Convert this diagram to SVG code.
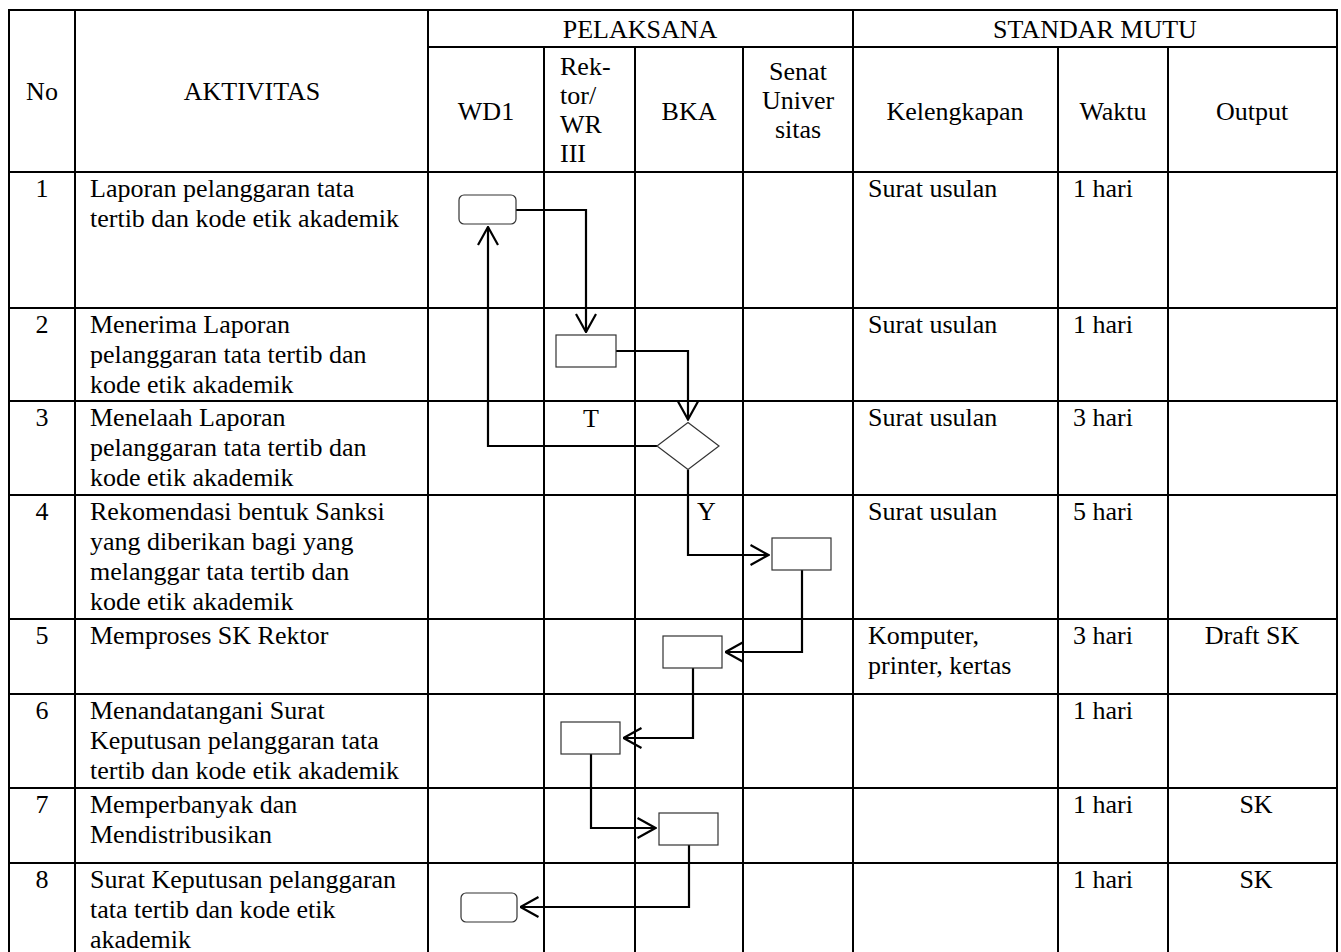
<svg xmlns="http://www.w3.org/2000/svg" width="1341" height="952" viewBox="0 0 1341 952">
<defs>
<style>
text{font-family:"Liberation Serif","Times New Roman",serif;font-size:26px;fill:#000}
.c{text-anchor:middle}
.grid line{stroke:#000;stroke-width:2}
.box{fill:#fff;stroke:#333;stroke-width:1.2}
.conn{fill:none;stroke:#000;stroke-width:2.2;marker-end:url(#arr)}
</style>
<marker id="arr" viewBox="0 0 20 22" refX="19" refY="11" markerWidth="20" markerHeight="22" markerUnits="userSpaceOnUse" orient="auto">
<path d="M1,1 L19,11 L1,21" fill="none" stroke="#000" stroke-width="2.2"/>
</marker>
</defs>
<rect width="1341" height="952" fill="#fff"/>
<g id="table" class="grid">
<line x1="8" y1="10" x2="1338" y2="10"/>
<line x1="428" y1="47" x2="1338" y2="47"/>
<line x1="8" y1="172" x2="1338" y2="172"/>
<line x1="8" y1="308" x2="1338" y2="308"/>
<line x1="8" y1="401" x2="1338" y2="401"/>
<line x1="8" y1="495" x2="1338" y2="495"/>
<line x1="8" y1="619" x2="1338" y2="619"/>
<line x1="8" y1="694" x2="1338" y2="694"/>
<line x1="8" y1="788" x2="1338" y2="788"/>
<line x1="8" y1="863" x2="1338" y2="863"/>
<line x1="9" y1="9" x2="9" y2="952"/>
<line x1="75" y1="10" x2="75" y2="952"/>
<line x1="428" y1="10" x2="428" y2="952"/>
<line x1="544" y1="47" x2="544" y2="952"/>
<line x1="635" y1="47" x2="635" y2="952"/>
<line x1="743" y1="47" x2="743" y2="952"/>
<line x1="853" y1="10" x2="853" y2="952"/>
<line x1="1058" y1="47" x2="1058" y2="952"/>
<line x1="1168" y1="47" x2="1168" y2="952"/>
<line x1="1337" y1="9" x2="1337" y2="952"/>
</g>
<g id="header">
<text class="c" x="640" y="38">PELAKSANA</text>
<text class="c" x="1095" y="38">STANDAR MUTU</text>
<text class="c" x="42" y="100">No</text>
<text class="c" x="252" y="100">AKTIVITAS</text>
<text class="c" x="486" y="120">WD1</text>
<text x="560" y="75">Rek-</text>
<text x="560" y="104">tor/</text>
<text x="560" y="133">WR</text>
<text x="560" y="162">III</text>
<text class="c" x="689" y="120">BKA</text>
<text class="c" x="798" y="80">Senat</text>
<text class="c" x="798" y="109">Univer</text>
<text class="c" x="798" y="138">sitas</text>
<text class="c" x="955" y="120">Kelengkapan</text>
<text class="c" x="1113" y="120">Waktu</text>
<text class="c" x="1252" y="120">Output</text>
</g>
<g id="rows">
<text class="c" x="42" y="197">1</text>
<text x="90" y="197">Laporan pelanggaran tata</text>
<text x="90" y="227">tertib dan kode etik akademik</text>
<text x="868" y="197">Surat usulan</text>
<text x="1073" y="197">1 hari</text>

<text class="c" x="42" y="333">2</text>
<text x="90" y="333">Menerima Laporan</text>
<text x="90" y="363">pelanggaran tata tertib dan</text>
<text x="90" y="393">kode etik akademik</text>
<text x="868" y="333">Surat usulan</text>
<text x="1073" y="333">1 hari</text>

<text class="c" x="42" y="426">3</text>
<text x="90" y="426">Menelaah Laporan</text>
<text x="90" y="456">pelanggaran tata tertib dan</text>
<text x="90" y="486">kode etik akademik</text>
<text x="868" y="426">Surat usulan</text>
<text x="1073" y="426">3 hari</text>

<text class="c" x="42" y="520">4</text>
<text x="90" y="520">Rekomendasi bentuk Sanksi</text>
<text x="90" y="550">yang diberikan bagi yang</text>
<text x="90" y="580">melanggar tata tertib dan</text>
<text x="90" y="610">kode etik akademik</text>
<text x="868" y="520">Surat usulan</text>
<text x="1073" y="520">5 hari</text>

<text class="c" x="42" y="644">5</text>
<text x="90" y="644">Memproses SK Rektor</text>
<text x="868" y="644">Komputer,</text>
<text x="868" y="674">printer, kertas</text>
<text x="1073" y="644">3 hari</text>
<text class="c" x="1252" y="644">Draft SK</text>

<text class="c" x="42" y="719">6</text>
<text x="90" y="719">Menandatangani Surat</text>
<text x="90" y="749">Keputusan pelanggaran tata</text>
<text x="90" y="779">tertib dan kode etik akademik</text>
<text x="1073" y="719">1 hari</text>

<text class="c" x="42" y="813">7</text>
<text x="90" y="813">Memperbanyak dan</text>
<text x="90" y="843">Mendistribusikan</text>
<text x="1073" y="813">1 hari</text>
<text class="c" x="1256" y="813">SK</text>

<text class="c" x="42" y="888">8</text>
<text x="90" y="888">Surat Keputusan pelanggaran</text>
<text x="90" y="918">tata tertib dan kode etik</text>
<text x="90" y="948">akademik</text>
<text x="1073" y="888">1 hari</text>
<text class="c" x="1256" y="888">SK</text>
</g>
<g id="connectors">
<path class="conn" d="M516,210 H586 V332"/>
<path class="conn" d="M616,351 H688 V419.5"/>
<path class="conn" d="M657,446 H488 V227"/>
<path class="conn" d="M688,469.5 V555 H768.5"/>
<path class="conn" d="M802,570 V652 H725.5"/>
<path class="conn" d="M693,668 V738 H623.5"/>
<path class="conn" d="M591,754 V828 H655.5"/>
<path class="conn" d="M689,845 V907 H520.5"/>
<text x="583" y="427">T</text>
<text x="697" y="520">Y</text>
</g>
<g id="n1"><rect class="box" x="459" y="195" width="57" height="29" rx="5"/></g>
<g id="n2"><rect class="box" x="556" y="335" width="60" height="32"/></g>
<g id="n3"><polygon class="box" points="688,422.5 719,446 688,469.5 657,446"/></g>
<g id="n4"><rect class="box" x="772" y="538" width="59" height="32"/></g>
<g id="n5"><rect class="box" x="663" y="636" width="59" height="32"/></g>
<g id="n6"><rect class="box" x="561" y="722" width="59" height="32"/></g>
<g id="n7"><rect class="box" x="659" y="813" width="59" height="32"/></g>
<g id="n8"><rect class="box" x="461" y="893" width="56" height="29" rx="5"/></g>
</svg>
